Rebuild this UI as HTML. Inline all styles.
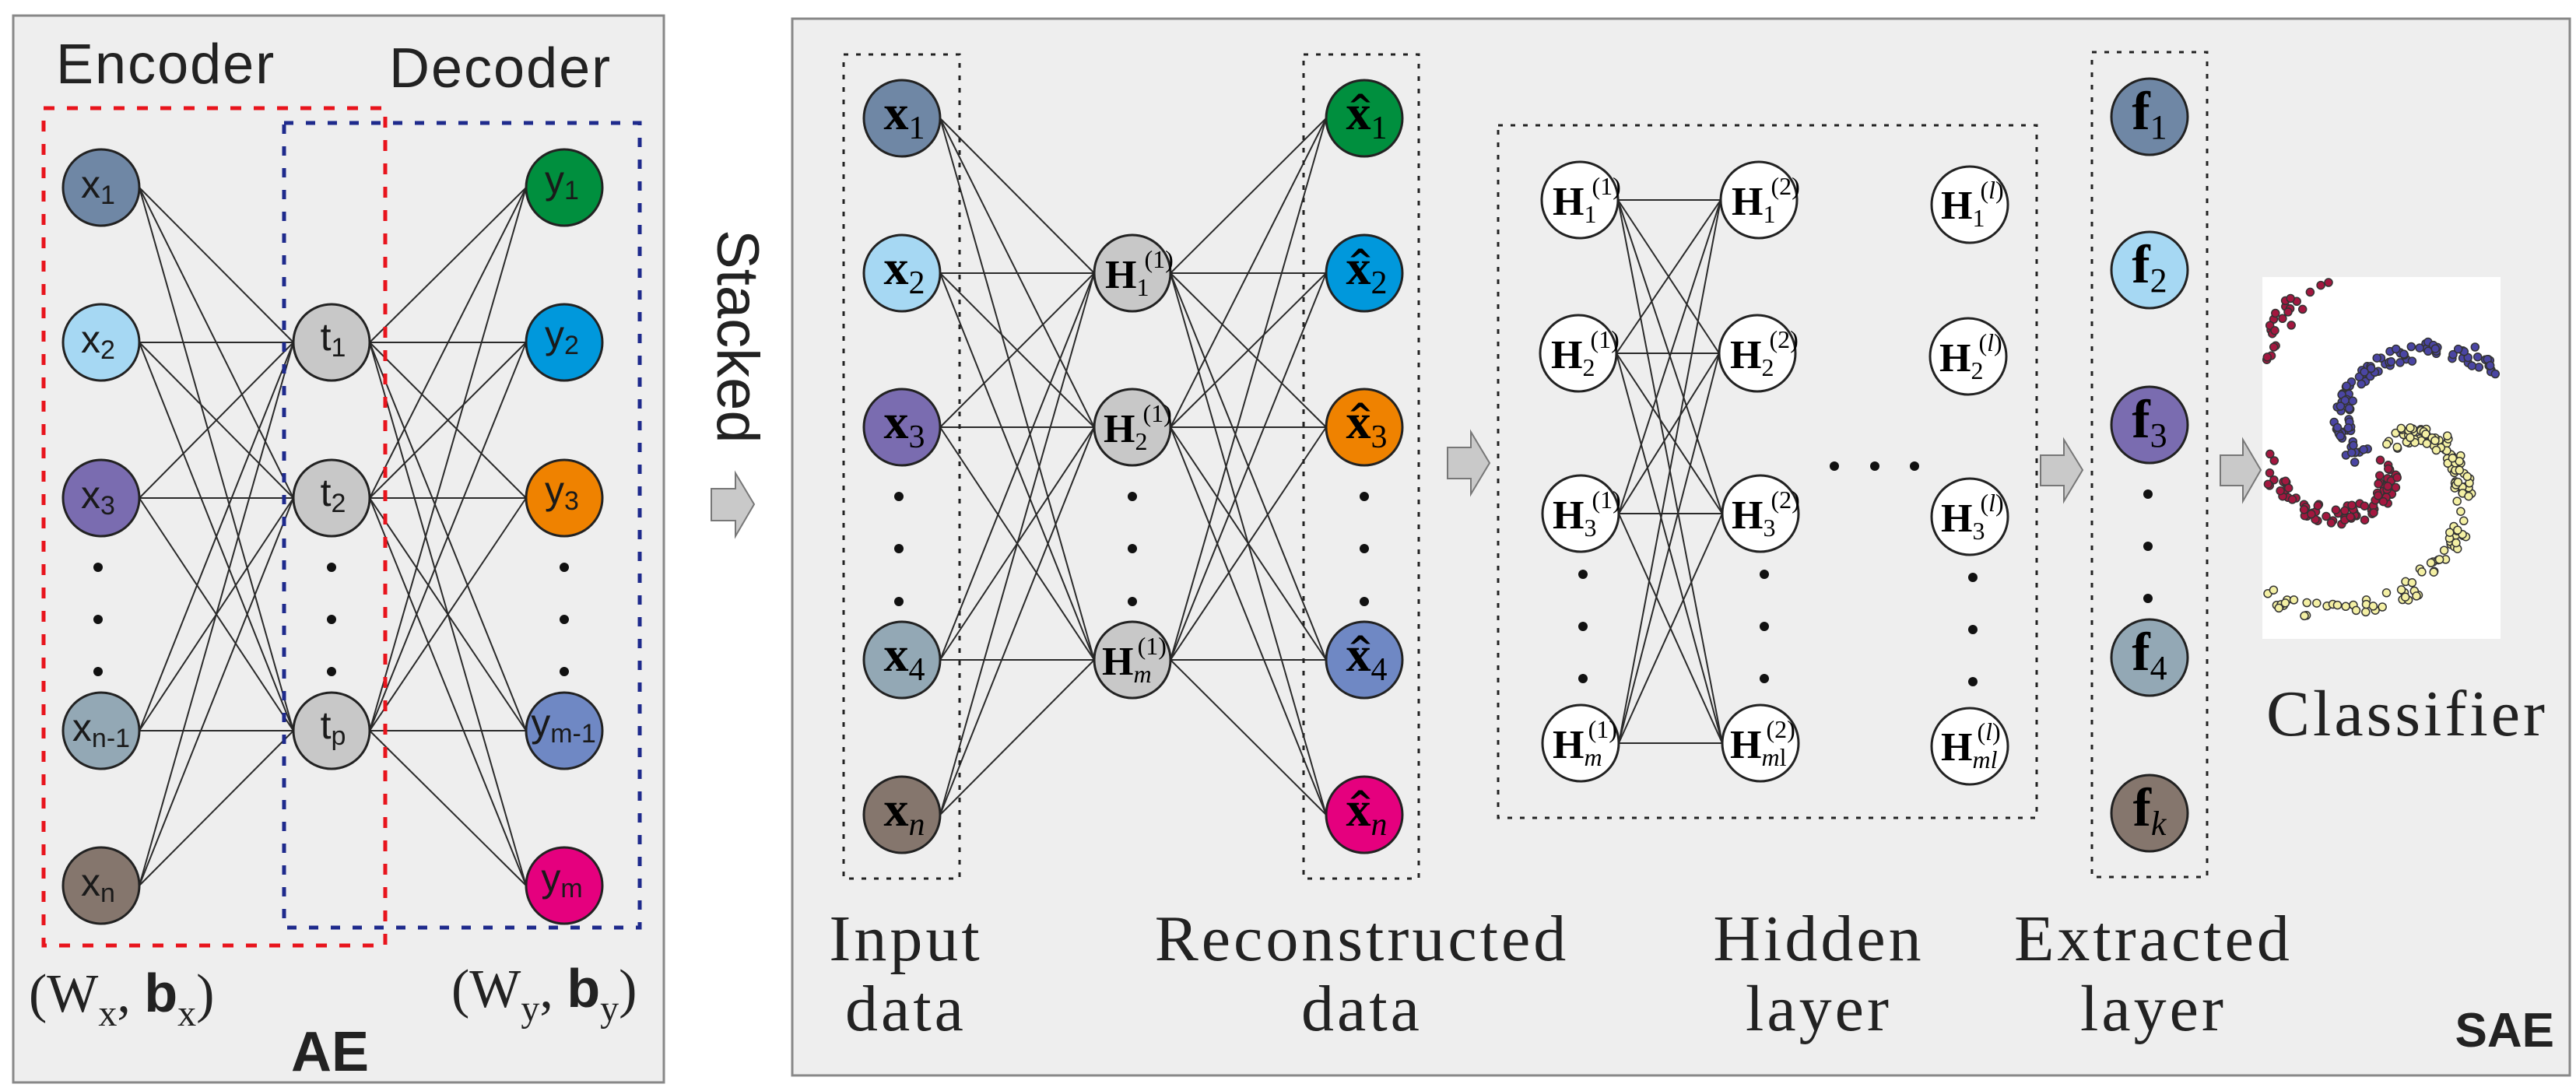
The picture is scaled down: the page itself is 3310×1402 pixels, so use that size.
<!DOCTYPE html>
<html><head><meta charset="utf-8"><style>
html,body{margin:0;padding:0;background:#fff;}
svg{display:block;}
</style></head><body>
<svg id="s" width="3310" height="1402" viewBox="0 0 3310 1402" xmlns="http://www.w3.org/2000/svg">
<rect x="0" y="0" width="3310" height="1402" fill="#ffffff"/>
<rect x="17" y="20" width="836" height="1371" fill="#eeeeee" stroke="#888" stroke-width="3"/>
<rect x="1018" y="24" width="2284" height="1358" fill="#eeeeee" stroke="#888" stroke-width="3"/>

<g id="lines" stroke="#2a2a2a" stroke-width="2" fill="none"></g>

<rect x="56" y="139" width="439" height="1076" fill="none" stroke="#e8141c" stroke-width="5" stroke-dasharray="14,16"/>
<rect x="365" y="158" width="457" height="1034" fill="none" stroke="#1e2a8c" stroke-width="5" stroke-dasharray="12,16"/>

<g fill="none" stroke="#222" stroke-width="3" stroke-dasharray="6,10">
<rect x="1084" y="70" width="149" height="1059"/>
<rect x="1675" y="70" width="148" height="1059"/>
<rect x="1925" y="161" width="692" height="890"/>
<rect x="2688" y="67" width="148" height="1060"/>
</g>

<g id="nodes" stroke="#222" stroke-width="3"></g>
<g id="dots" fill="#111"></g>

<g fill="#c9c9c9" stroke="#777" stroke-width="2">
<polygon points="914,628 945,628 945,608 969,648 945,689 945,669 914,669"/>
<polygon points="1860,575 1890,575 1890,555 1914,595 1890,635 1890,615 1860,615"/>
<polygon points="2622,585 2652,585 2652,565 2676,604 2652,644 2652,624 2622,624"/>
<polygon points="2853,585 2882,585 2882,565 2905,604 2882,644 2882,624 2853,624"/>
</g>

<rect x="2907" y="356" width="306" height="465" fill="#ffffff"/>
<g id="scatter" stroke="#333" stroke-width="1.5"></g>

<g font-family="Liberation Sans, Arial, sans-serif" fill="#222">
<text x="72" y="107" font-size="72" letter-spacing="2">Encoder</text>
<text x="500" y="112" font-size="72" letter-spacing="2">Decoder</text>
<text x="424" y="1376" font-size="72" font-weight="bold" text-anchor="middle">AE</text>
<text x="3282" y="1345" font-size="62" font-weight="bold" text-anchor="end">SAE</text>
<text transform="translate(922,295) rotate(90)" font-size="76">Stacked</text>
</g>
<g font-family="Liberation Serif, Times New Roman, serif" fill="#222">
<text x="37" y="1300" font-size="70">(W<tspan font-size="48" dy="18">x</tspan><tspan dy="-18">, </tspan><tspan font-family="Liberation Sans, Arial, sans-serif" font-weight="bold" font-size="70">b</tspan><tspan font-size="48" dy="18">x</tspan><tspan dy="-18">)</tspan></text>
<text x="580" y="1294" font-size="70">(W<tspan font-size="48" dy="18">y</tspan><tspan dy="-18">, </tspan><tspan font-family="Liberation Sans, Arial, sans-serif" font-weight="bold" font-size="70">b</tspan><tspan font-size="48" dy="18">y</tspan><tspan dy="-18">)</tspan></text>
</g>
<g font-family="Liberation Serif, Times New Roman, serif" fill="#222" font-size="84" text-anchor="middle" letter-spacing="4">
<text x="1164" y="1234">Input</text>
<text x="1164" y="1324">data</text>
<text x="1750" y="1234">Reconstructed</text>
<text x="1750" y="1324">data</text>
<text x="2337" y="1234">Hidden</text>
<text x="2337" y="1324">layer</text>
<text x="2767" y="1234">Extracted</text>
<text x="2767" y="1324">layer</text>
<text x="3093" y="945">Classifier</text>
</g>

<g font-family="Liberation Sans, Arial, sans-serif" fill="#1a1a1a" font-size="50" text-anchor="middle">
<text x="126" y="254">x<tspan font-size="34" dy="8">1</tspan></text>
<text x="126" y="453">x<tspan font-size="34" dy="8">2</tspan></text>
<text x="126" y="653">x<tspan font-size="34" dy="8">3</tspan></text>
<text x="130" y="952">x<tspan font-size="34" dy="8">n-1</tspan></text>
<text x="126" y="1151">x<tspan font-size="34" dy="8">n</tspan></text>
<text x="428" y="450">t<tspan font-size="34" dy="8">1</tspan></text>
<text x="428" y="650">t<tspan font-size="34" dy="8">2</tspan></text>
<text x="428" y="949">t<tspan font-size="34" dy="8">p</tspan></text>
<text x="722" y="248">y<tspan font-size="34" dy="8">1</tspan></text>
<text x="722" y="447">y<tspan font-size="34" dy="8">2</tspan></text>
<text x="722" y="647">y<tspan font-size="34" dy="8">3</tspan></text>
<text x="724" y="946">y<tspan font-size="34" dy="8">m-1</tspan></text>
<text x="722" y="1145">y<tspan font-size="34" dy="8">m</tspan></text>
</g>

<g font-family="Liberation Serif, Times New Roman, serif" fill="#000" font-size="64" font-weight="bold" text-anchor="middle">
<text x="1162" y="166">x<tspan font-size="42" font-weight="normal" dy="12">1</tspan></text>
<text x="1162" y="365">x<tspan font-size="42" font-weight="normal" dy="12">2</tspan></text>
<text x="1162" y="563">x<tspan font-size="42" font-weight="normal" dy="12">3</tspan></text>
<text x="1162" y="862">x<tspan font-size="42" font-weight="normal" dy="12">4</tspan></text>
<text x="1162" y="1061">x<tspan font-size="42" font-weight="normal" font-style="italic" dy="12">n</tspan></text>
<text x="1756" y="166">x<tspan font-size="42" font-weight="normal" dy="12">1</tspan></text>
<text x="1756" y="365">x<tspan font-size="42" font-weight="normal" dy="12">2</tspan></text>
<text x="1756" y="563">x<tspan font-size="42" font-weight="normal" dy="12">3</tspan></text>
<text x="1756" y="862">x<tspan font-size="42" font-weight="normal" dy="12">4</tspan></text>
<text x="1756" y="1061">x<tspan font-size="42" font-weight="normal" font-style="italic" dy="12">n</tspan></text>
<text x="2762" y="166" font-size="70">f<tspan font-size="44" font-weight="normal" dy="12">1</tspan></text>
<text x="2762" y="363" font-size="70">f<tspan font-size="44" font-weight="normal" dy="12">2</tspan></text>
<text x="2762" y="562" font-size="70">f<tspan font-size="44" font-weight="normal" dy="12">3</tspan></text>
<text x="2762" y="861" font-size="70">f<tspan font-size="44" font-weight="normal" dy="12">4</tspan></text>
<text x="2762" y="1061" font-size="70">f<tspan font-size="44" font-weight="normal" font-style="italic" dy="12">k</tspan></text>
</g>
<g font-family="DejaVu Sans, sans-serif" fill="#000" font-size="40" font-weight="bold" text-anchor="middle">
<text x="1748" y="150">^</text>
<text x="1748" y="349">^</text>
<text x="1748" y="547">^</text>
<text x="1748" y="846">^</text>
<text x="1748" y="1045">^</text>
</g>

<g font-family="Liberation Serif, Times New Roman, serif" fill="#000" font-size="52" font-weight="bold">
<text x="1420" y="370">H<tspan font-size="32" font-weight="normal" dy="10">1</tspan><tspan font-size="32" font-weight="normal" dx="-6" dy="-36">(1)</tspan></text>
<text x="1418" y="568">H<tspan font-size="32" font-weight="normal" dy="10">2</tspan><tspan font-size="32" font-weight="normal" dx="-6" dy="-36">(1)</tspan></text>
<text x="1416" y="867">H<tspan font-size="32" font-weight="normal" font-style="italic" dy="10">m</tspan><tspan font-size="32" font-weight="normal" dx="-18" dy="-36">(1)</tspan></text>

<text x="1995" y="276">H<tspan font-size="32" font-weight="normal" dy="10">1</tspan><tspan font-size="32" font-weight="normal" dx="-6" dy="-36">(1)</tspan></text>
<text x="1993" y="473">H<tspan font-size="32" font-weight="normal" dy="10">2</tspan><tspan font-size="32" font-weight="normal" dx="-6" dy="-36">(1)</tspan></text>
<text x="1995" y="679">H<tspan font-size="32" font-weight="normal" dy="10">3</tspan><tspan font-size="32" font-weight="normal" dx="-6" dy="-36">(1)</tspan></text>
<text x="1995" y="974">H<tspan font-size="32" font-weight="normal" font-style="italic" dy="10">m</tspan><tspan font-size="32" font-weight="normal" dx="-18" dy="-36">(1)</tspan></text>

<text x="2225" y="276">H<tspan font-size="32" font-weight="normal" dy="10">1</tspan><tspan font-size="32" font-weight="normal" dx="-6" dy="-36">(2)</tspan></text>
<text x="2223" y="473">H<tspan font-size="32" font-weight="normal" dy="10">2</tspan><tspan font-size="32" font-weight="normal" dx="-6" dy="-36">(2)</tspan></text>
<text x="2225" y="679">H<tspan font-size="32" font-weight="normal" dy="10">3</tspan><tspan font-size="32" font-weight="normal" dx="-6" dy="-36">(2)</tspan></text>
<text x="2223" y="974">H<tspan font-size="32" font-weight="normal" font-style="italic" dy="10">m</tspan><tspan font-size="32" font-weight="normal">l</tspan><tspan font-size="32" font-weight="normal" dx="-26" dy="-36">(2)</tspan></text>

<text x="2494" y="281">H<tspan font-size="32" font-weight="normal" dy="10">1</tspan><tspan font-size="32" font-weight="normal" dx="-6" dy="-36">(<tspan font-style="italic">l</tspan>)</tspan></text>
<text x="2492" y="477">H<tspan font-size="32" font-weight="normal" dy="10">2</tspan><tspan font-size="32" font-weight="normal" dx="-6" dy="-36">(<tspan font-style="italic">l</tspan>)</tspan></text>
<text x="2494" y="683">H<tspan font-size="32" font-weight="normal" dy="10">3</tspan><tspan font-size="32" font-weight="normal" dx="-6" dy="-36">(<tspan font-style="italic">l</tspan>)</tspan></text>
<text x="2494" y="977">H<tspan font-size="32" font-weight="normal" font-style="italic" dy="10">ml</tspan><tspan font-size="32" font-weight="normal" dx="-26" dy="-36">(<tspan font-style="italic">l</tspan>)</tspan></text>
</g>
</svg>
<script>
(function(){
var NS="http://www.w3.org/2000/svg";
function el(p,t,a){var e=document.createElementNS(NS,t);for(var k in a)e.setAttribute(k,a[k]);p.appendChild(e);return e;}
var L=document.getElementById('lines'),N=document.getElementById('nodes'),D=document.getElementById('dots'),S=document.getElementById('scatter');
var R=49;
function conn(a,b){a.forEach(function(p){b.forEach(function(q){el(L,'line',{x1:p[0]+R,y1:p[1],x2:q[0]-R,y2:q[1]});});});}
function nodes(arr){arr.forEach(function(n){el(N,'circle',{cx:n[0],cy:n[1],r:R,fill:n[2]});});}
function dots(x,ys){ys.forEach(function(y){el(D,'circle',{cx:x,cy:y,r:6});});}
var c=['#6f87a5','#a6d8f3','#7a6cb0','#93a8b5','#85766d'];
var cy=['#008f3e','#0098dc','#ef8200','#6f88c4','#e5007e'];
var ax=[[130,241],[130,440],[130,640],[130,939],[130,1138]];
var at=[[426,440],[426,640],[426,939]];
var ay=[[725,241],[725,440],[725,640],[725,939],[725,1138]];
conn(ax,at);conn(at,ay);
nodes(ax.map(function(p,i){return [p[0],p[1],c[i]];}));
nodes(at.map(function(p){return [p[0],p[1],'#c8c8c8'];}));
nodes(ay.map(function(p,i){return [p[0],p[1],cy[i]];}));
dots(126,[729,796,863]);dots(426,[729,796,863]);dots(725,[729,796,863]);
var sx=[[1159,152],[1159,351],[1159,549],[1159,848],[1159,1047]];
var sh=[[1455,351],[1455,549],[1455,848]];
var sr=[[1753,152],[1753,351],[1753,549],[1753,848],[1753,1047]];
conn(sx,sh);conn(sh,sr);
nodes(sx.map(function(p,i){return [p[0],p[1],c[i]];}));
nodes(sh.map(function(p){return [p[0],p[1],'#c8c8c8'];}));
nodes(sr.map(function(p,i){return [p[0],p[1],cy[i]];}));
dots(1155,[638,705,773]);dots(1455,[638,705,773]);dots(1753,[638,705,773]);
var h1=[[2030,257],[2028,454],[2031,660],[2031,955]];
var h2=[[2260,257],[2258,454],[2262,660],[2262,955]];
var h3=[[2531,263],[2529,458],[2531,664],[2531,959]];
conn(h1,h2);
nodes(h1.concat(h2).concat(h3).map(function(p){return [p[0],p[1],'#ffffff'];}));
dots(2034,[738,805,872]);dots(2267,[738,805,872]);dots(2535,[742,809,876]);
[2357,2409,2460].forEach(function(x){el(D,'circle',{cx:x,cy:599,r:6});});
var fx=[[2762,150],[2762,347],[2762,546],[2762,845],[2762,1045]];
nodes(fx.map(function(p,i){return [p[0],p[1],c[i]];}));
dots(2760,[635,702,769]);
var seed=11;function rnd(){seed=(seed*16807)%2147483647;return seed/2147483647;}
var cx=3060,cyy=585;
var arms=[['#a3173f',Math.PI/3],['#4a45a3',Math.PI],['#f4f0a4',5*Math.PI/3]];
arms.forEach(function(a){
 for(var i=0;i<150;i++){
  var t=rnd()*3.6; var th=a[1]+t; var r=20+65*t;
  var x=cx+r*Math.cos(th)+(rnd()-0.5)*24, y=cyy+r*Math.sin(th)+(rnd()-0.5)*24;
  if(x<2912||x>3208||y<361||y>816)continue;
  el(S,'circle',{cx:x.toFixed(1),cy:y.toFixed(1),r:5,fill:a[0]});
 }
});
})();
</script>
</body></html>
